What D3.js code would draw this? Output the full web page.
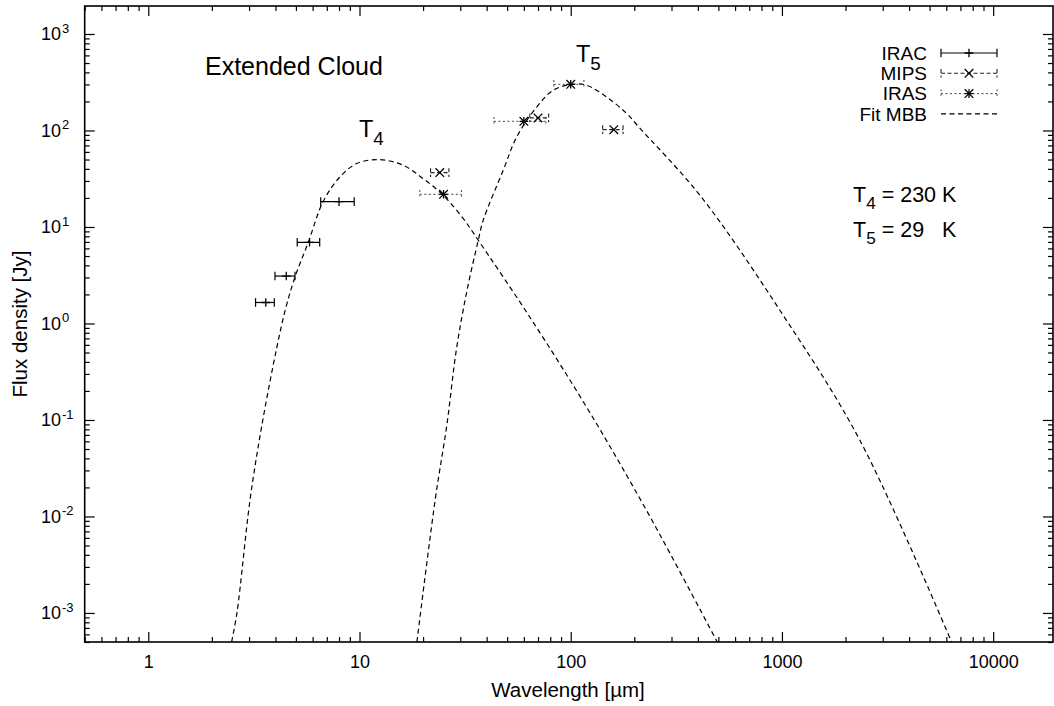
<!DOCTYPE html>
<html>
<head>
<meta charset="utf-8">
<style type="text/css">
	body { margin: 0; background: #fff; }
	svg { display: block; font-family: "Liberation Sans", Arial, Helvetica, sans-serif; }
	.frame { fill: none; stroke: #000; stroke-width: 1.6; }
	.axis path { display: none; }
	.axis line { stroke: #000; stroke-width: 1.2; }
	.axis text { font-size: 18px; fill: #000; font-family: "Liberation Sans", Arial, sans-serif; }
	.fit { fill: none; stroke: #000; stroke-width: 1.2; stroke-dasharray: 5 3.5; }
	.bar-irac { stroke: #000; stroke-width: 1.2; fill: none; }
	.bar-mips { stroke: #222; stroke-width: 1.1; fill: none; stroke-dasharray: 4 2.5; }
	.bar-iras { stroke: #444; stroke-width: 1; fill: none; stroke-dasharray: 2 2.5; }
	.mark { stroke: #000; stroke-width: 1.3; fill: none; }
</style>
</head>
<body>
<div class="vis-sed"></div>
<script src="https://d3js.org/d3.v7.min.js"></script>
<script>

	// Data //
	// ---- //

	// IRAC (wavelength um, band edges, flux Jy)
	const iracWl   = [3.6, 4.5, 5.8, 8.0];
	const iracLo   = [3.22, 3.98, 5.07, 6.55];
	const iracHi   = [3.95, 4.95, 6.48, 9.44];
	const iracFlux = [1.65, 3.1, 6.94, 18.3];

	// MIPS
	const mipsWl   = [24, 70, 160];
	const mipsLo   = [21.7, 64, 141.6];
	const mipsHi   = [26.5, 78.6, 177];
	const mipsFlux = [36.6, 135, 102];

	// IRAS
	const irasWl   = [25, 60, 100];
	const irasLo   = [19.3, 43.3, 83.2];
	const irasHi   = [30.4, 76.3, 115.5];
	const irasFlux = [21.8, 124.5, 301];

	// Fitted MBB curves
	const fitT4Wl   = [2.48, 2.63, 3.03, 3.45, 4.05, 4.47, 4.95, 5.72, 6.74, 8.08, 9.69, 12.4, 16.1, 20.0, 24.9, 31.0, 36.5, 64.1, 123, 237, 494];
	const fitT4Flux = [5e-4, 1.01e-3, 0.0147, 0.088, 0.55, 1.43, 3.03, 6.94, 18.5, 33.0, 45.4, 49.9, 43.6, 31.7, 21.3, 12.2, 7.28, 1.16, 0.120, 0.0100, 5e-4];
	const fitT5Wl   = [18.7, 22.8, 25.9, 28.8, 32.3, 36.5, 38.5, 47.9, 55.5, 69.0, 82.6, 101.3, 119, 148, 184, 213, 409, 978, 2339, 6353];
	const fitT5Flux = [5e-4, 0.0147, 0.088, 0.55, 2.21, 7.28, 11.7, 38.7, 85.6, 175, 261, 301, 294, 222, 150, 105, 21.3, 1.37, 0.0616, 5e-4];

	// Ticks
	const xMajor  = [1, 10, 100, 1000, 10000];
	const xLabels = ["1", "10", "100", "1000", "10000"];
	const yMajor  = [1e-3, 1e-2, 1e-1, 1, 10, 100, 1000];
	const yExp    = ["-3", "-2", "-1", "0", "1", "2", "3"];

	// Legend
	const legendNames = ["IRAC", "MIPS", "IRAS", "Fit MBB"];

	function sedvis() {

		// ----- //
		// Setup //
		// ----- //

		let W = 1054, H = 706;
		let margin = {left: 84.7, right: 1053, top: 6, bottom: 642};

		let x = d3.scaleLog().domain([0.5, 19200]).range([margin.left, margin.right]);
		let y = d3.scaleLog().domain([5e-4, 1950]).range([margin.bottom, margin.top]);

		let svg = d3.select(".vis-sed")
			.append("svg")
				.attr("width", W)
				.attr("height", H);

		svg.append("defs").append("clipPath")
			.attr("id", "clip")
			.append("rect")
				.attr("x", margin.left).attr("y", margin.top)
				.attr("width", margin.right - margin.left).attr("height", margin.bottom - margin.top);

		// minor ticks 2..9 in each decade
		function minors(lo, hi) {
			let out = [];
			for (let p = lo; p <= hi; p++)
				for (let k = 2; k <= 9; k++) out.push(k * Math.pow(10, p));
			return out;
		}
		let xMinor = minors(-1, 4).filter(v => v >= 0.5 && v <= 19200);
		let yMinor = minors(-4, 3).filter(v => v >= 5e-4 && v <= 1950);

		// AXES (inward ticks on all four sides)
		function tickAxis(axisFn, scale, vals, size, tr) {
			svg.append("g")
				.attr("class", "axis")
				.attr("transform", tr)
				.call(axisFn(scale).tickValues(vals).tickSize(-size).tickFormat(""));
		}
		tickAxis(d3.axisBottom, x, xMinor, 5, "translate(0," + margin.bottom + ")");
		tickAxis(d3.axisBottom, x, xMajor, 10, "translate(0," + margin.bottom + ")");
		tickAxis(d3.axisTop, x, xMinor, 5, "translate(0," + margin.top + ")");
		tickAxis(d3.axisTop, x, xMajor, 10, "translate(0," + margin.top + ")");
		tickAxis(d3.axisLeft, y, yMinor, 5, "translate(" + margin.left + ",0)");
		tickAxis(d3.axisLeft, y, yMajor, 10, "translate(" + margin.left + ",0)");
		tickAxis(d3.axisRight, y, yMinor, 5, "translate(" + margin.right + ",0)");
		tickAxis(d3.axisRight, y, yMajor, 10, "translate(" + margin.right + ",0)");

		// X tick labels
		svg.append("g")
			.attr("class", "axis")
			.attr("transform", "translate(0," + margin.bottom + ")")
			.call(d3.axisBottom(x).tickValues(xMajor).tickSize(0).tickPadding(13)
				.tickFormat((d, i) => xLabels[i]));

		// Y tick labels 10^n
		let ylab = svg.append("g").attr("class", "axis");
		yMajor.forEach((v, i) => {
			ylab.append("text")
				.attr("x", 61)
				.attr("y", y(v) + 6.5)
				.style("text-anchor", "end")
				.text("10");
			ylab.append("text")
				.attr("x", 62)
				.attr("y", y(v) - 1)
				.style("font-size", "13px")
				.text(yExp[i]);
		});

		// FRAME
		svg.append("rect")
			.attr("class", "frame")
			.attr("x", margin.left).attr("y", margin.top)
			.attr("width", margin.right - margin.left).attr("height", margin.bottom - margin.top);

		// AXIS TITLES
		svg.append("text")
			.attr("x", 568)
			.attr("y", 697)
			.style("text-anchor", "middle")
			.style("font-size", "20.5px")
			.text("Wavelength [\u00b5m]");

		svg.append("text")
			.attr("transform", "translate(27," + ((margin.top + margin.bottom) / 2) + ") rotate(-90)")
			.style("text-anchor", "middle")
			.style("font-size", "20.5px")
			.text("Flux density [Jy]");

		// FIT CURVES
		let valueline = d3.line()
			.x(d => x(d[0]))
			.y(d => y(d[1]))
			.curve(d3.curveCatmullRom.alpha(0.5));

		let plot = svg.append("g").attr("clip-path", "url(#clip)");

		[[fitT4Wl, fitT4Flux], [fitT5Wl, fitT5Flux]].forEach(c => {
			plot.append("path")
				.datum(zip(c[0], c[1]))
				.attr("class", "fit")
				.attr("d", valueline);
		});

		// ERROR BARS + MARKERS
		let cap = 4.3, ms = 4.3;

		function drawBar(g, cls, x0, x1, yy) {
			g.append("line").attr("class", cls)
				.attr("x1", x0).attr("x2", x1).attr("y1", yy).attr("y2", yy);
			g.append("line").attr("class", cls)
				.attr("x1", x0).attr("x2", x0).attr("y1", yy - cap).attr("y2", yy + cap);
			g.append("line").attr("class", cls)
				.attr("x1", x1).attr("x2", x1).attr("y1", yy - cap).attr("y2", yy + cap);
		}
		function drawPlus(g, cx, cy) {
			g.append("path").attr("class", "mark")
				.attr("d", "M" + (cx - ms) + "," + cy + "H" + (cx + ms) + "M" + cx + "," + (cy - ms) + "V" + (cy + ms));
		}
		function drawCross(g, cx, cy) {
			g.append("path").attr("class", "mark")
				.attr("d", "M" + (cx - ms) + "," + (cy - ms) + "L" + (cx + ms) + "," + (cy + ms) +
					"M" + (cx - ms) + "," + (cy + ms) + "L" + (cx + ms) + "," + (cy - ms));
		}
		function drawStar(g, cx, cy) {
			drawPlus(g, cx, cy);
			drawCross(g, cx, cy);
		}

		let pts = plot.append("g");
		iracWl.forEach((w, i) => {
			drawBar(pts, "bar-irac", x(iracLo[i]), x(iracHi[i]), y(iracFlux[i]));
			drawPlus(pts, x(w), y(iracFlux[i]));
		});
		mipsWl.forEach((w, i) => {
			drawBar(pts, "bar-mips", x(mipsLo[i]), x(mipsHi[i]), y(mipsFlux[i]));
			drawCross(pts, x(w), y(mipsFlux[i]));
		});
		irasWl.forEach((w, i) => {
			drawBar(pts, "bar-iras", x(irasLo[i]), x(irasHi[i]), y(irasFlux[i]));
			drawStar(pts, x(w), y(irasFlux[i]));
		});

		// LEGEND
		let lg = svg.append("g");
		let lx0 = 941, lx1 = 997, ltext = 927, ly0 = 53, ldy = 20.3;
		legendNames.forEach((name, i) => {
			let ly = ly0 + i * ldy;
			lg.append("text")
				.attr("x", ltext).attr("y", ly + 6.8)
				.style("text-anchor", "end")
				.style("font-size", "19px")
				.text(name);
			let mid = (lx0 + lx1) / 2;
			if (i == 0) { drawBar(lg, "bar-irac", lx0, lx1, ly); drawPlus(lg, mid, ly); }
			if (i == 1) { drawBar(lg, "bar-mips", lx0, lx1, ly); drawCross(lg, mid, ly); }
			if (i == 2) { drawBar(lg, "bar-iras", lx0, lx1, ly); drawStar(lg, mid, ly); }
			if (i == 3) {
				lg.append("line").attr("class", "fit")
					.attr("x1", lx0).attr("x2", lx1).attr("y1", ly).attr("y2", ly);
			}
		});

		// ANNOTATIONS
		svg.append("text")
			.attr("x", 205).attr("y", 75)
			.style("font-size", "25px")
			.text("Extended Cloud");

		function tLabel(xx, yy, sub, size, rest) {
			let t = svg.append("text")
				.attr("x", xx).attr("y", yy)
				.style("font-size", size + "px")
				.style("white-space", "pre");
			t.append("tspan").text("T");
			t.append("tspan").attr("dy", size * 0.33).style("font-size", (size * 0.8) + "px").text(sub);
			if (rest) t.append("tspan").attr("dy", -size * 0.33).text(rest);
		}
		tLabel(359, 137, "4", 23.5);
		tLabel(576, 62, "5", 23.5);
		tLabel(853, 202, "4", 21.5, " = 230 K");
		tLabel(853, 237, "5", 21.5, " = 29   K");
	}

	// Utilities
	function zip(a, b) {
		return a.map((e, i) => [e, b[i]]);
	}

	sedvis();
</script>
</body>
</html>
